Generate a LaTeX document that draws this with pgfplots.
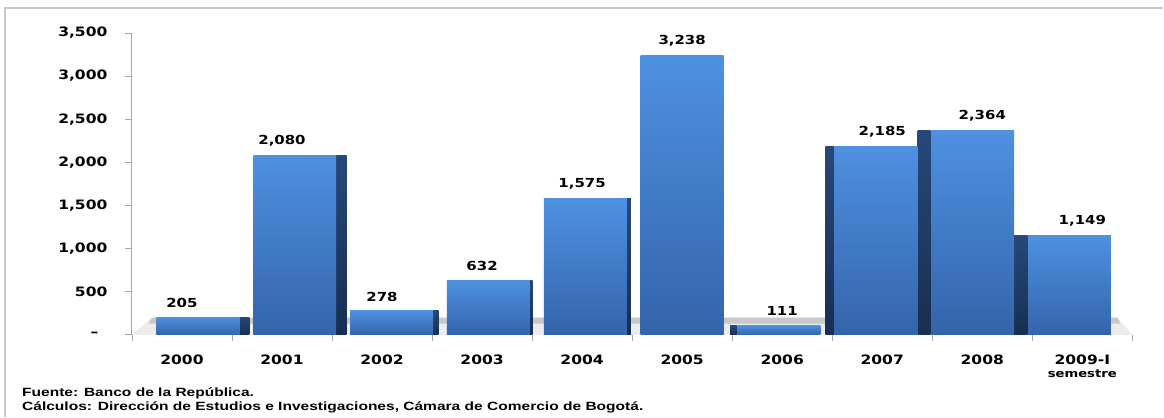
\documentclass[border=0pt]{standalone}
\usepackage{fontspec}
\usepackage{pgfplots}
\pgfplotsset{compat=1.18}
\newfontfamily\vfont{DejaVu Sans}[FakeStretch=1.2]
\newfontfamily\afont{Liberation Sans}[FakeStretch=1.3]
\definecolor{bartop}{RGB}{78,145,224}
\definecolor{barbot}{RGB}{52,100,170}
\definecolor{sidetop}{RGB}{38,72,122}
\definecolor{sidebot}{RGB}{24,46,82}
\definecolor{axgray}{RGB}{166,166,166}
\definecolor{framegray}{RGB}{200,200,200}
\definecolor{floorlight}{RGB}{236,236,236}
\definecolor{floordark}{RGB}{200,200,200}

\pgfplotsset{
  front/.style={ybar, bar width=83bp, draw=none, top color=bartop, bottom color=barbot,
    nodes near coords,
    every node near coord/.append style={font=\vfont\bfseries\fontsize{12.5}{13}\selectfont, text=black, anchor=south, yshift=6bp}},
  side/.style={ybar, draw=none, top color=sidetop, bottom color=sidebot},
}

\begin{document}
\begin{tikzpicture}[x=1bp,y=1bp]
\path (0,0) rectangle (1164,417);
\draw[framegray, line width=1.5bp] (5,0) -- (5,409) -- (1164,409);
\begin{axis}[
  at={(132bp,82bp)}, anchor=south west,
  scale only axis, width=1001bp, height=302bp,
  xmin=-0.5, xmax=9.5, ymin=0, ymax=3500,
  clip=false,
  axis x line*=bottom, axis y line*=left,
  axis line style={axgray, line width=1bp, -},
  xtick={0,...,9},
  xticklabels={2000,2001,2002,2003,2004,2005,2006,2007,2008,{2009-I\\[-1bp]{\fontsize{11}{12}\selectfont semestre}}},
  every major x tick/.append style={draw=none},
  minor xtick={-0.5,0.5,...,9.5},
  minor tick length=6bp,
  ytick={0,500,...,3500},
  yticklabels={{–\kern9bp\null},500,{1,000},{1,500},{2,000},{2,500},{3,000},{3,500}},
  tick align=outside, major tick length=7bp,
  tick style={axgray, line width=0.8bp},
  xticklabel style={font=\vfont\bfseries\fontsize{13}{14}\selectfont, align=center, anchor=north, yshift=-10bp},
  yticklabel style={font=\vfont\bfseries\fontsize{13}{14}\selectfont, anchor=east, xshift=-14bp},
  /pgf/number format/assume math mode=true,
  /pgf/number format/1000 sep={,},
]
\fill[floorlight] (axis cs:-0.5,0) -- (axis cs:9.5,0) -- (axis cs:9.35,200) -- (axis cs:-0.3,200) -- cycle;
\fill[floordark] (axis cs:-0.33,130) -- (axis cs:9.38,130) -- (axis cs:9.35,200) -- (axis cs:-0.3,200) -- cycle;
% side faces (right side for left bars, left side for right bars)
\addplot[side, bar width=10bp, bar shift=62.5bp]   coordinates {(0,205)};
\addplot[side, bar width=11bp, bar shift=59.3bp]   coordinates {(1,2080)};
\addplot[side, bar width=9bp,  bar shift=52.1bp]   coordinates {(2,278)};
\addplot[side, bar width=7bp,  bar shift=47.1bp]   coordinates {(3,632)};
\addplot[side, bar width=5bp,  bar shift=46.2bp]   coordinates {(4,1575)};
\addplot[side, bar width=7bp,  bar shift=-48.7bp]  coordinates {(6,111)};
\addplot[side, bar width=9bp,  bar shift=-52.4bp]  coordinates {(7,2185)};
\addplot[side, bar width=13bp, bar shift=-58.1bp]  coordinates {(8,2364)};
\addplot[side, bar width=15bp, bar shift=-62.3bp]  coordinates {(9,1149)};
% front faces
\addplot[front, bar shift=16bp]    coordinates {(0,205)};
\addplot[front, bar shift=12.8bp]  coordinates {(1,2080)};
\addplot[front, bar shift=9.6bp]   coordinates {(2,278)};
\addplot[front, bar shift=6.4bp]   coordinates {(3,632)};
\addplot[front, bar shift=3.2bp]   coordinates {(4,1575)};
\addplot[front, bar shift=0bp]     coordinates {(5,3238)};
\addplot[front, bar shift=-3.2bp]  coordinates {(6,111)};
\addplot[front, bar shift=-6.4bp]  coordinates {(7,2185)};
\addplot[front, bar shift=-9.6bp]  coordinates {(8,2364)};
\addplot[front, bar shift=-12.8bp] coordinates {(9,1149)};
\end{axis}
\node[anchor=base west, inner sep=0pt, font=\afont\bfseries\fontsize{12}{13}\selectfont] at (22,20) {Fuente: Banco de la República.};
\node[anchor=base west, inner sep=0pt, font=\afont\bfseries\fontsize{12}{13}\selectfont] at (22,6) {Cálculos: Dirección de Estudios e Investigaciones, Cámara de Comercio de Bogotá.};
\end{tikzpicture}
\end{document}
